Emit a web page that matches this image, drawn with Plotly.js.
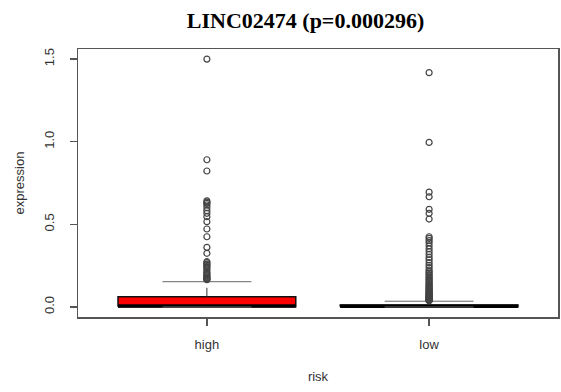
<!DOCTYPE html>
<html>
<head>
<meta charset="utf-8">
<script src="https://cdn.plot.ly/plotly-3.0.1.min.js"></script>
<style>html,body{margin:0;padding:0;background:#fff;}#chart{width:561px;height:392px;}</style>
</head>
<body>
<div id="chart"></div>
<script>
// ---- data ----
const categories = ["high", "low"];
const boxColors = ["#ff0000", "#ffffff"];
const q1 = [0.002, 0.001];
const medians = [0.006, 0.004];
const q3 = [0.062, 0.012];
const lowerWhisker = [0.0, 0.0];
const upperWhisker = [0.153, 0.035];
const outliersHigh = [0.165, 0.168, 0.172, 0.177, 0.183, 0.189, 0.196, 0.204, 0.212, 0.224, 0.234, 0.244, 0.252, 0.260, 0.268, 0.274, 0.325, 0.361, 0.425, 0.472, 0.516, 0.546, 0.567, 0.583, 0.601, 0.617, 0.627, 0.634, 0.642, 0.823, 0.891, 1.500];
const outliersLow = [0.038, 0.040, 0.042, 0.044, 0.046, 0.048, 0.050, 0.052, 0.055, 0.058, 0.061, 0.064, 0.067, 0.070, 0.073, 0.077, 0.081, 0.085, 0.089, 0.093, 0.098, 0.103, 0.108, 0.113, 0.118, 0.124, 0.130, 0.136, 0.142, 0.150, 0.158, 0.165, 0.172, 0.180, 0.188, 0.196, 0.205, 0.214, 0.224, 0.238, 0.252, 0.268, 0.285, 0.300, 0.318, 0.335, 0.352, 0.370, 0.388, 0.402, 0.415, 0.425, 0.532, 0.567, 0.591, 0.667, 0.695, 0.996, 1.418];
const outliers = [outliersHigh, outliersLow];
const yTicks = [0, 0.5, 1.0, 1.5];
const yTickText = ["0.0", "0.5", "1.0", "1.5"];

const boxHalf = 0.4, stapleHalf = 0.2;
const traces = [];
categories.forEach((c, i) => {
  const x = i + 1;
  // box
  traces.push({type: "scatter", mode: "lines", fill: "toself", fillcolor: boxColors[i],
    x: [x - boxHalf, x + boxHalf, x + boxHalf, x - boxHalf, x - boxHalf],
    y: [q1[i], q1[i], q3[i], q3[i], q1[i]],
    line: {color: "#111", width: 1.5}, hoverinfo: "skip", showlegend: false});
  // median
  traces.push({type: "scatter", mode: "lines", x: [x - boxHalf, x + boxHalf], y: [medians[i], medians[i]],
    line: {color: "#000", width: 3.5}, hoverinfo: "skip", showlegend: false});
  // whiskers (dashed)
  traces.push({type: "scatter", mode: "lines", x: [x, x], y: [q3[i], upperWhisker[i]],
    line: {color: "#333", width: 1, dash: "dash"}, hoverinfo: "skip", showlegend: false});
  traces.push({type: "scatter", mode: "lines", x: [x, x], y: [q1[i], lowerWhisker[i]],
    line: {color: "#333", width: 1, dash: "dash"}, hoverinfo: "skip", showlegend: false});
  // staples
  traces.push({type: "scatter", mode: "lines", x: [x - stapleHalf, x + stapleHalf], y: [upperWhisker[i], upperWhisker[i]],
    line: {color: "#666", width: 1}, hoverinfo: "skip", showlegend: false});
  traces.push({type: "scatter", mode: "lines", x: [x - stapleHalf, x + stapleHalf], y: [lowerWhisker[i], lowerWhisker[i]],
    line: {color: "#666", width: 1}, hoverinfo: "skip", showlegend: false});
  // outliers
  traces.push({type: "scatter", mode: "markers", x: outliers[i].map(() => x), y: outliers[i],
    marker: {symbol: "circle-open", size: 6, color: "#444", line: {width: 1.2, color: "#444"}},
    hoverinfo: "y", showlegend: false});
});

const axisFont = {family: "Liberation Sans, Arial, sans-serif", size: 13, color: "#333"};
const layout = {
  width: 561, height: 392,
  margin: {l: 78, r: 3, t: 49, b: 75},
  paper_bgcolor: "#fff", plot_bgcolor: "#fff",
  showlegend: false,
  title: {text: "<b>LINC02474 (p=0.000296)</b>", x: 0.5446, xref: "container", xanchor: "center",
    y: 0.949, yref: "container", yanchor: "middle",
    font: {family: "Liberation Serif, Times New Roman, serif", size: 22, color: "#000"}},
  xaxis: {range: [0.42, 2.58], tickvals: [1, 2], ticktext: categories, showgrid: false, zeroline: false,
    showline: true, mirror: true, linecolor: "#555", linewidth: 1.5,
    ticks: "outside", ticklen: 7, tickcolor: "#555", tickwidth: 1.5, tickfont: axisFont, ticklabelstandoff: 8,
    title: {text: "risk", font: axisFont, standoff: 21}, automargin: false},
  yaxis: {range: [-0.0605, 1.561], tickvals: yTicks, ticktext: yTickText, showgrid: false, zeroline: false,
    showline: true, mirror: true, linecolor: "#555", linewidth: 1.5,
    ticks: "outside", ticklen: 7, tickcolor: "#555", tickwidth: 1.5, tickangle: -90, tickfont: axisFont, ticklabelstandoff: 10,
    title: {text: "expression", font: axisFont, standoff: 14}, automargin: false}
};
Plotly.newPlot("chart", traces, layout, {staticPlot: true, displayModeBar: false});
</script>
</body>
</html>
